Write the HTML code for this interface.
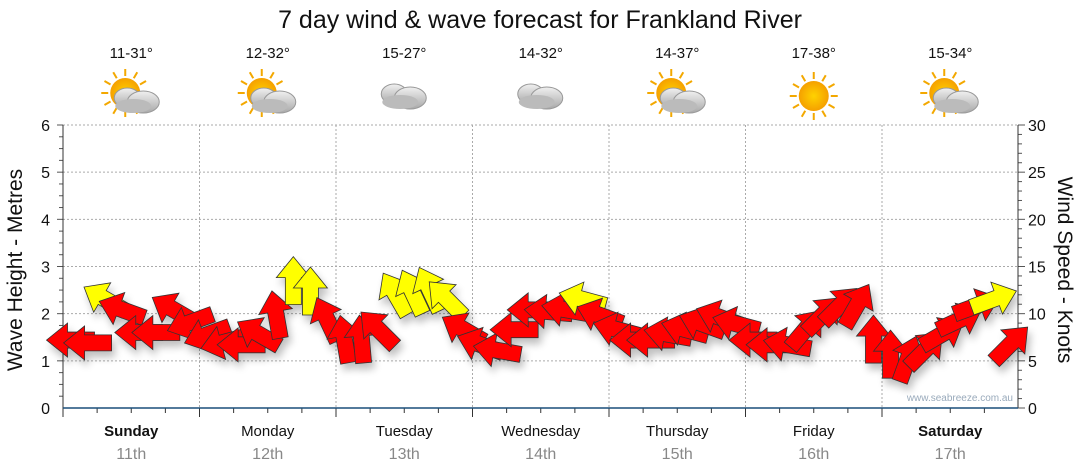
<!DOCTYPE html>
<html><head><meta charset="utf-8"><style>
body{margin:0;background:#fff;}
svg{display:block;font-family:"Liberation Sans",sans-serif;}
</style></head><body>
<svg id="chart" width="1080" height="475" viewBox="0 0 1080 475">
<defs>
<filter id="sh" x="-50%" y="-50%" width="200%" height="200%"><feGaussianBlur in="SourceAlpha" stdDeviation="4"/><feOffset dx="3" dy="6"/><feComponentTransfer><feFuncA type="linear" slope="0.25"/></feComponentTransfer><feMerge><feMergeNode/><feMergeNode in="SourceGraphic"/></feMerge></filter>
<radialGradient id="sunG"><stop offset="0" stop-color="#ffd200"/><stop offset="1" stop-color="#f5a000"/></radialGradient>
<linearGradient id="cloudG" x1="0" y1="0" x2="0" y2="1"><stop offset="0" stop-color="#f0f0f0"/><stop offset="1" stop-color="#a8a8a8"/></linearGradient>
</defs>
<text x="540" y="28" text-anchor="middle" font-size="25" fill="#111">7 day wind &amp; wave forecast for Frankland River</text>
<g id="axes"></g>
<g id="icons"></g>
<g id="arrows" filter="url(#sh)"></g>
<text x="1013" y="401" text-anchor="end" font-size="10" fill="#9ab">www.seabreeze.com.au</text>
<text transform="translate(22,270) rotate(-90)" text-anchor="middle" font-size="21" fill="#111">Wave Height - Metres</text>
<text transform="translate(1058,270) rotate(90)" text-anchor="middle" font-size="21" fill="#111">Wind Speed - Knots</text>
</svg>
<script>
const days=["Sunday","Monday","Tuesday","Wednesday","Thursday","Friday","Saturday"];
const dates=["11th","12th","13th","14th","15th","16th","17th"];
const temps=["11-31°","12-32°","15-27°","14-32°","14-37°","17-38°","15-34°"];
const icons=["partly","partly","cloud","cloud","partly","sun","partly"];
const waveTicks=[0,1,2,3,4,5,6];
const windTicks=[0,5,10,15,20,25,30];
// wind speed (knots) every 3 hours
const windSpeed=[7.2,6.9,11.5,10.4,8.0,8.0,10.4,9.1,
7.8,7.0,6.7,7.8,9.8,13.4,12.3,9.3,
7.2,7.2,8.3,12.0,12.2,12.5,11.5,8.3,
6.7,6.1,8.3,10.4,10.2,10.4,11.5,9.8,
8.3,7.2,7.2,7.8,8.3,8.9,9.6,8.9,
7.2,6.7,6.7,8.3,9.8,10.8,10.8,7.2,
5.6,5.1,6.1,7.8,9.3,10.8,11.5,6.7];
// arrow pointing direction (deg, 0=east, 90=north)
const windDir=[180,180,150,160,180,180,150,200,
200,195,180,150,100,90,90,115,
100,95,135,120,115,115,135,150,
160,170,180,180,175,170,165,160,
165,180,180,170,165,160,160,165,
180,180,170,50,45,45,60,90,
90,70,45,30,25,20,20,45];
const windColor=["r","r","y","r","r","r","r","r","r","r","r","r","r","y","y","r","r","r","r","y","y","y","y","r","r","r","r","r","r","r","y","r","r","r","r","r","r","r","r","r","r","r","r","r","r","r","r","r","r","r","r","r","r","r","y","r"];
const X0=63,DW=136.5,Y0=408,YT=125;
const xT=h=>X0+h/24*DW;
const yW=m=>Y0-m/6*(Y0-YT);
const yK=k=>Y0-k/30*(Y0-YT);
const NS="http://www.w3.org/2000/svg";
function mk(t,a,p){const e=document.createElementNS(NS,t);for(const k in a)e.setAttribute(k,a[k]);(p||document.getElementById('chart')).appendChild(e);return e;}
const ax=document.getElementById('axes');
waveTicks.forEach(v=>{if(v>0){const g=mk('line',{x1:X0,x2:1018,y1:yW(v),y2:yW(v),stroke:'#aaa','stroke-dasharray':'2,2'},ax);

}
const t=mk('text',{x:50,y:yW(v)+6,'text-anchor':'end','font-size':16,fill:'#111'},ax);t.textContent=v;

});
for(let i=1;i<=24;i++){mk('line',{x1:X0-(i%4==0?6:4),x2:X0,y1:yW(i/4),y2:yW(i/4),stroke:'#555'},ax);}
windTicks.forEach(v=>{const t=mk('text',{x:1028,y:yK(v)+6,'font-size':16,fill:'#111'},ax);t.textContent=v;

});
for(let i=0;i<=30;i++){mk('line',{x1:1018,x2:1018+(i%5==0?7:4),y1:yK(i),y2:yK(i),stroke:'#555'},ax);}
mk('line',{x1:X0,x2:X0,y1:YT,y2:Y0,stroke:'#333'},ax);
mk('line',{x1:1018,x2:1018,y1:YT,y2:Y0,stroke:'#333'},ax);
days.forEach((d,i)=>{
 if(i>0){const g=mk('line',{x1:xT(i*24),x2:xT(i*24),y1:YT,y2:Y0,stroke:'#aaa','stroke-dasharray':'2,2'},ax);
 
 }
 for(let q=0;q<4;q++)mk('line',{x1:xT(i*24+q*6),x2:xT(i*24+q*6),y1:Y0,y2:Y0+(q==0?9:5),stroke:'#333'},ax);
 const cx=xT(i*24+12);
 const t=mk('text',{x:cx,y:436,'text-anchor':'middle','font-size':15,fill:'#111','font-weight':(i==0||i==6)?'bold':'normal'},ax);t.textContent=d;
 
 
 const t2=mk('text',{x:cx,y:459,'text-anchor':'middle','font-size':16,fill:'#888'},ax);t2.textContent=dates[i];
 
 
 const t3=mk('text',{x:cx,y:58,'text-anchor':'middle','font-size':15,fill:'#111'},ax);t3.textContent=temps[i];
 
 
 const ic=document.getElementById('icons');
 const g=mk('g',{transform:`translate(${cx},96)`},ic);
 
 
 const k=icons[i];
 if(k!=='cloud'){const sx=k==='sun'?0:-6,sy=k==='sun'?0:-3;
  for(let r=0;r<12;r++){const a=r*Math.PI/6;mk('line',{x1:sx+Math.cos(a)*17,y1:sy+Math.sin(a)*17,x2:sx+Math.cos(a)*24,y2:sy+Math.sin(a)*24,stroke:'#f3a800','stroke-width':2},g);}
  mk('circle',{cx:sx,cy:sy,r:15,fill:'url(#sunG)'},g);}
 if(k!=='sun'){const ox=k==='cloud'?0:6,oy=k==='cloud'?0:4;
  mk('ellipse',{cx:ox-10,cy:oy-2,rx:13,ry:10,fill:'url(#cloudG)',stroke:'#999'},g);
  mk('ellipse',{cx:ox+6,cy:oy+2,rx:16,ry:11,fill:'url(#cloudG)',stroke:'#999'},g);
  mk('ellipse',{cx:ox-4,cy:oy+6,rx:18,ry:7,fill:'#bbb'},g);}
});
mk('line',{x1:X0,x2:1018,y1:Y0,y2:Y0,stroke:'#1a4f7a','stroke-width':1.5},ax);
const ar=document.getElementById('arrows');
windSpeed.forEach((s,i)=>{
 const x=xT(i*3+1.5),y=yK(s);
 const p=mk('polygon',{points:'-23,-8 4,-8 4,-17 25,0 4,17 4,8 -23,8',fill:windColor[i]==='y'?'#ffff00':'#ff0000',stroke:'#333','stroke-width':0.8,transform:`translate(${x},${y}) rotate(${-windDir[i]})`},ar);
 
 
});
</script>
</body></html>
